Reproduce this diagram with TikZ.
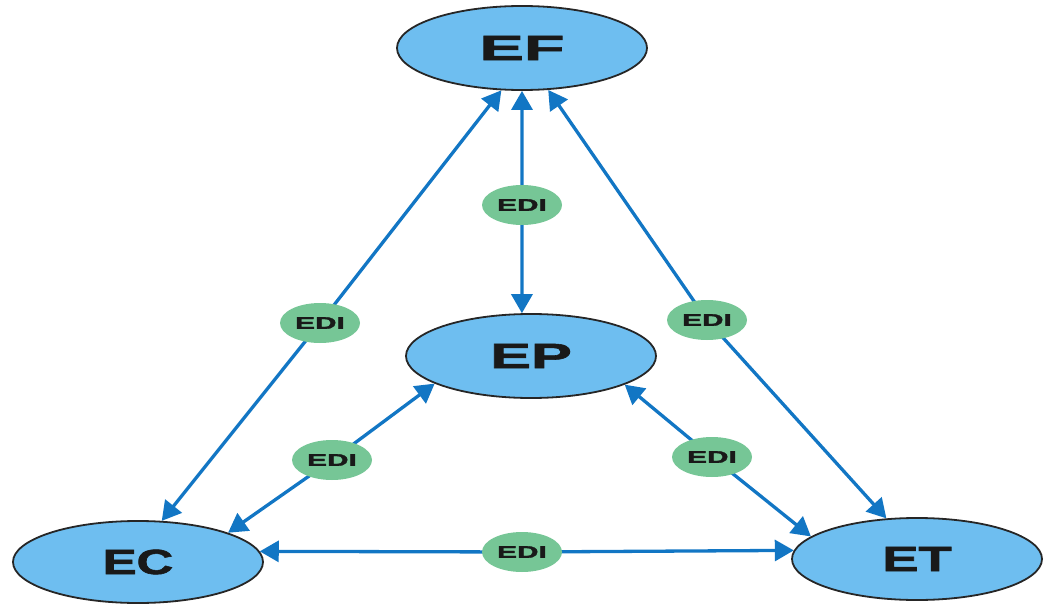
\documentclass[tikz,border=0pt]{standalone}
\usepackage{fontspec}
\setmainfont{Liberation Sans}
\newfontfamily\heavyfont{Liberation Sans}[BoldFeatures={FakeBold=1.6}]
\usepackage{graphicx}
\usetikzlibrary{arrows.meta,shapes.geometric}
\pgfdeclarelayer{bg}
\pgfsetlayers{bg,main}
\definecolor{ellblue}{RGB}{110,190,240}
\definecolor{arrblue}{RGB}{18,118,196}
\definecolor{edigreen}{RGB}{118,198,150}
\newcommand\widetxt[2]{\scalebox{#1}[1]{#2}}
\begin{document}
\begin{tikzpicture}[x=1pt,y=-1pt,
  bignode/.style={ellipse, draw=black!85, line width=1.8pt, fill=ellblue,
    minimum width=250pt, minimum height=84pt, inner sep=0pt, text=black!90,
    font=\heavyfont\fontsize{35}{35}\selectfont\bfseries},
  edinode/.style={ellipse, fill=edigreen, minimum width=80pt, minimum height=40pt,
    inner sep=0pt, text=black!90, font=\heavyfont\fontsize{17}{17}\selectfont\bfseries},
  link/.style={draw=arrblue, line width=3.3pt,
    {Triangle[length=19pt,width=21pt]}-{Triangle[length=19pt,width=21pt]}}]
\useasboundingbox (0,0) rectangle (1047,607);

\node[bignode] (EF) at (522,48) {\widetxt{1.9}{EF}};
\node[bignode] (EP) at (531,356) {\widetxt{1.75}{EP}};
\node[bignode, minimum height=82pt] (EC) at (138,562) {\widetxt{1.45}{EC}};
\node[bignode, minimum height=82pt] (ET) at (917,559) {\widetxt{1.55}{ET}};

\node[edinode] (e1) at (522,205) {\widetxt{1.75}{EDI}};
\node[edinode] (e2) at (320,323) {\widetxt{1.75}{EDI}};
\node[edinode] (e3) at (707,320) {\widetxt{1.75}{EDI}};
\node[edinode] (e4) at (332,460) {\widetxt{1.75}{EDI}};
\node[edinode] (e5) at (712,457) {\widetxt{1.75}{EDI}};
\node[edinode] (e6) at (522,552) {\widetxt{1.75}{EDI}};

\begin{pgfonlayer}{bg}
\draw[link] (EF.270) -- (e1.center) -- (EP.102);
\draw[link] (EF.244) -- (e2.center) -- (EC.60);
\draw[link] (EF.302) -- (e3.center) -- (ET.127);
\draw[link] (EP.196) -- (e4.center) -- (EC.18);
\draw[link] (EP.343) -- (e5.center) -- (ET.168);
\draw[link] (EC.5) -- (e6.center) -- (ET.176);
\end{pgfonlayer}
\end{tikzpicture}
\end{document}
